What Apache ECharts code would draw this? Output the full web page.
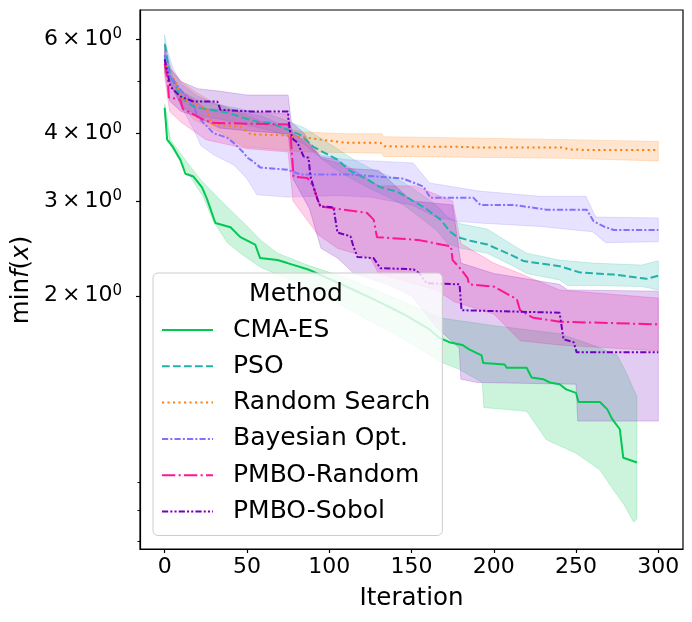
<!DOCTYPE html>
<html>
<head>
<meta charset="utf-8">
<script src="https://cdn.jsdelivr.net/npm/echarts@6.0.0/dist/echarts.min.js"></script>
<style>
html, body { margin: 0; padding: 0; background: #fff; }
#chart { width: 692px; height: 622px; }
</style>
</head>
<body>
<div id="chart"></div>
<script type="text/javascript">
// [iteration, value]
var methods = ['CMA-ES', 'PSO', 'Random Search', 'Bayesian Opt.', 'PMBO-Random', 'PMBO-Sobol'];
var xTicks = [0, 50, 100, 150, 200, 250, 300];
var yTicks = [2, 3, 4, 6];
var yMinorTicks = [0.7, 0.8, 0.9, 5];

var cmaMean = [[0,4.47],[1.5,3.90],[5,3.78],[9.5,3.58],[12.6,3.37],[17.5,3.33],[22.7,3.18],[25.8,3.02],[30.8,2.73],[40,2.68],[46,2.57],[55,2.49],[58,2.35],[68.5,2.33],[74.6,2.30],[86.8,2.24],[90,2.22],[100,2.15],[115,2.05],[130,1.95],[145,1.85],[160,1.74],[167,1.67],[173,1.64],[181,1.62],[185,1.59],[192.6,1.55],[193.6,1.50],[206.6,1.49],[207.8,1.47],[220,1.47],[223,1.41],[230,1.40],[234,1.38],[240,1.37],[244,1.34],[250,1.32],[251.5,1.27],[264.5,1.27],[269,1.23],[272,1.18],[276.6,1.13],[278.7,1.00],[287,0.98]];
var cmaHi = [[0,4.55],[3.5,3.90],[13.6,3.54],[21.7,3.29],[32,3.05],[41.8,2.85],[50.3,2.69],[58.2,2.54],[68.5,2.40],[86.8,2.28],[110,2.16],[140,1.98],[167,1.82],[200,1.76],[240,1.70],[260,1.62],[275,1.55],[280,1.45],[287,1.30]];
var cmaLo = [[0,4.35],[3.5,3.80],[13.6,3.40],[23.5,3.05],[29.6,2.75],[38.1,2.51],[46,2.40],[58.2,2.26],[75,2.15],[90,2.05],[110,1.90],[130,1.76],[150,1.63],[167,1.51],[179,1.46],[193,1.38],[194,1.24],[220,1.22],[232,1.08],[250,1.02],[264.4,0.95],[272.9,0.87],[279,0.82],[285,0.76],[287,0.77]];

var psoMean = [[0,5.86],[0.4,5.81],[1.6,5.49],[3.5,5.11],[7.7,4.83],[11.4,4.63],[17.5,4.49],[27.8,4.43],[38.1,4.38],[47.9,4.28],[56.4,4.21],[64.3,4.19],[74.6,4.07],[82.5,3.98],[90.4,3.78],[99,3.66],[105,3.58],[112.9,3.41],[123.2,3.29],[131.1,3.18],[141.5,3.12],[149.4,3.02],[159.7,2.89],[167.6,2.77],[173.6,2.63],[177.9,2.57],[185.8,2.53],[196.2,2.49],[212,2.37],[218.1,2.32],[240,2.27],[252.2,2.21],[272.9,2.19],[292.9,2.15],[300,2.18]];
var psoHi = [[0,6.10],[2,5.60],[5,5.10],[10,4.80],[20,4.62],[35,4.52],[50,4.42],[65,4.33],[75,4.22],[85,4.10],[95,3.92],[105,3.75],[115,3.58],[125,3.45],[135,3.35],[145,3.25],[155,3.10],[165,2.95],[172,2.80],[180,2.72],[196,2.66],[212,2.48],[220,2.40],[240,2.33],[260,2.30],[290,2.28],[299,2.32],[300,2.32]];
var psoLo = [[0,5.60],[2,5.20],[5,4.85],[10,4.50],[20,4.32],[35,4.25],[50,4.15],[65,4.05],[75,3.95],[85,3.82],[95,3.60],[105,3.42],[115,3.28],[125,3.16],[135,3.06],[145,2.95],[155,2.80],[165,2.65],[172,2.50],[180,2.45],[196,2.40],[212,2.27],[220,2.20],[240,2.14],[245,2.09],[260,2.09],[290,2.08],[300,2.05]];

var rsMean = [[0,5.49],[3.5,5.07],[6.5,5.04],[9.5,4.67],[17.5,4.55],[26,4.43],[27.8,4.25],[29.6,4.16],[46,4.12],[52.1,3.99],[74.6,3.97],[82.5,3.95],[94.7,3.90],[110,3.85],[131,3.85],[133.5,3.79],[185,3.78],[187.7,3.77],[242.4,3.77],[245.5,3.74],[252.2,3.74],[254.6,3.73],[300,3.73]];
var rsHi = [[0,5.70],[3.5,5.30],[10,5.00],[18,4.80],[28,4.60],[40,4.45],[52,4.30],[64,4.16],[84,4.03],[110,4.00],[132,4.00],[133,3.95],[245,3.90],[300,3.87]];
var rsLo = [[0,5.20],[3.5,4.90],[10,4.55],[17.5,4.25],[34,4.02],[48,3.78],[68,3.74],[84,3.70],[132,3.68],[133,3.63],[245,3.60],[300,3.56]];

var boMean = [[0,5.60],[0.4,5.44],[3.5,5.11],[9.5,4.83],[17.5,4.53],[19.9,4.30],[21.7,4.25],[26,4.12],[29.6,4.01],[38.1,3.93],[41.8,3.85],[47.9,3.69],[50.3,3.61],[53.9,3.55],[58.2,3.46],[74.6,3.43],[82.5,3.36],[112.9,3.36],[145,3.30],[157.3,3.19],[161.5,3.04],[187.7,3.04],[191.9,2.95],[212,2.95],[232.1,2.89],[256.5,2.89],[260.7,2.75],[266.8,2.69],[272.9,2.65],[300,2.65]];
var boHi = [[0,5.90],[5,5.30],[10,4.95],[20,4.70],[30,4.55],[45,4.40],[60,4.30],[75,4.10],[85,3.85],[95,3.65],[110,3.58],[151,3.53],[161,3.24],[191,3.13],[228,3.06],[256,3.06],[262,2.80],[300,2.79]];
var boLo = [[0,5.30],[5,4.85],[10,4.50],[18,4.05],[22,3.80],[30,3.65],[42,3.50],[50,3.30],[56,3.08],[75,3.05],[105,3.07],[125,3.05],[150,2.95],[165,2.80],[178,2.75],[191,2.73],[228,2.69],[260,2.63],[268,2.51],[300,2.52]];

var prMean = [[0,5.40],[2,5.00],[2.5,4.67],[9.5,4.63],[11,4.45],[23.5,4.25],[29,4.19],[75,4.16],[76.4,4.02],[78.3,3.33],[86.8,3.31],[90.4,3.19],[92.9,3.02],[94.7,2.93],[123,2.85],[127,2.77],[129,2.57],[154,2.54],[168,2.49],[174,2.47],[175,2.33],[180,2.24],[184,2.16],[185,2.10],[200,2.08],[214,1.97],[216,1.88],[224,1.82],[240,1.79],[300,1.77]];
var prHi = [[0,5.60],[3,5.10],[10,4.80],[25,4.45],[50,4.40],[75,4.35],[78,4.00],[90,3.80],[95,3.60],[110,3.50],[130,3.20],[152,3.20],[175,3.00],[180,2.50],[200,2.30],[216,2.20],[240,2.05],[300,1.98]];
var prLo = [[0,5.10],[3,4.40],[10,4.20],[25,3.90],[50,3.75],[75,3.70],[78,3.00],[93,2.60],[105,2.45],[125,2.35],[130,2.20],[165,2.05],[176,1.95],[200,1.85],[216,1.65],[240,1.62],[300,1.58]];

var psMean = [[0,5.50],[0.4,5.49],[3.5,4.89],[9.5,4.69],[17.5,4.59],[32,4.59],[33.9,4.43],[52,4.40],[75,4.40],[75.2,4.25],[76.4,4.02],[78.3,3.90],[80.7,3.85],[84.4,3.63],[87.4,3.61],[88.6,3.33],[90.4,3.19],[92.9,3.02],[94.7,2.93],[102.6,2.92],[105,2.62],[112.9,2.58],[114.7,2.47],[117.2,2.36],[126.9,2.35],[131.1,2.25],[151.2,2.24],[155,2.20],[159.1,2.11],[179.2,2.10],[180.4,1.88],[240,1.86],[242.4,1.66],[248.5,1.64],[250.4,1.57],[300,1.57]];
var psHi = [[0,5.80],[3,5.30],[10,5.00],[20,4.85],[33,4.80],[50,4.72],[75,4.72],[77,4.20],[85,4.00],[90,3.75],[95,3.62],[105,3.58],[110,3.45],[130,3.42],[150,3.00],[175,2.95],[180,2.30],[200,2.20],[240,2.10],[245,2.05],[300,2.04]];
var psLo = [[0,5.20],[3,4.60],[10,4.40],[20,4.30],[33,4.10],[50,4.05],[75,4.00],[78,3.30],[88,2.90],[95,2.45],[105,2.35],[115,2.20],[125,2.15],[135,2.10],[150,2.00],[165,1.75],[179,1.60],[180,1.40],[190,1.38],[250,1.37],[251,1.17],[300,1.17]];

var means = [cmaMean, psoMean, rsMean, boMean, prMean, psMean];
var his = [cmaHi, psoHi, rsHi, boHi, prHi, psHi];
var los = [cmaLo, psoLo, rsLo, boLo, prLo, psLo];

var colors = ['#00c853', '#20b2aa', '#ff7f0e', '#8470ff', '#ff1493', '#7000c0'];
var dashes = ['solid', [7.7, 3.3], [2.1, 3.4], [6.2, 2.1, 2.1, 2.1], [13.3, 3.3, 2.1, 3.3], [6.2, 2.1, 2.1, 2.1, 2.1, 2.1]];
var font = 'DejaVu Sans';

var myChart = echarts.init(document.getElementById('chart'));

function bandSeries(i) {
    var hi = his[i], lo = los[i];
    return {
        type: 'custom',
        name: methods[i] + ' band',
        silent: true,
        data: [hi[0]],
        renderItem: function (params, api) {
            var pts = hi.map(function (p) { return api.coord(p); });
            lo.slice().reverse().forEach(function (p) { pts.push(api.coord(p)); });
            return {
                type: 'polygon',
                shape: { points: pts },
                style: { fill: colors[i], stroke: colors[i], lineWidth: 1, opacity: 0.2 }
            };
        }
    };
}

var series = [];
for (var i = 0; i < methods.length; i++) {
    series.push(bandSeries(i));
    series.push({
        type: 'line',
        name: methods[i],
        data: means[i],
        showSymbol: false,
        symbol: 'none',
        color: colors[i],
        lineStyle: { width: 2, type: dashes[i], color: colors[i] }
    });
}

var option = {
    animation: false,
    grid: { left: 140, top: 10, right: 9, bottom: 73, show: true, borderColor: '#000', borderWidth: 1.2 },
    xAxis: {
        type: 'value', min: -15, max: 315,
        name: 'Iteration', nameLocation: 'middle', nameGap: 37,
        nameTextStyle: { fontSize: 24.5, fontFamily: font, color: '#000' },
        axisLine: { onZero: false, lineStyle: { color: '#000', width: 1.2 } },
        axisTick: { length: 4, lineStyle: { color: '#000', width: 1.2 }, customValues: xTicks },
        axisLabel: { fontSize: 22, fontFamily: font, color: '#000', margin: 7, customValues: xTicks },
        splitLine: { show: false }
    },
    yAxis: [{
        type: 'log', logBase: 10, min: 0.677, max: 6.79, position: 'left',
        axisLine: { onZero: false, lineStyle: { color: '#000', width: 1.2 } },
        axisTick: { length: 4, lineStyle: { color: '#000', width: 1.2 }, customValues: yTicks },
        axisLabel: {
            margin: 18, customValues: yTicks,
            formatter: function (v) { return '{n|' + Math.round(v) + '}{x|×}{n|10}{s|0}'; },
            rich: {
                n: { fontSize: 22, fontFamily: font, color: '#000', lineHeight: 24 },
                x: { fontSize: 22, fontFamily: font, color: '#000', lineHeight: 24, padding: [0, 4, 0, 4] },
                s: { fontSize: 15, fontFamily: font, color: '#000', lineHeight: 15, verticalAlign: 'top' }
            }
        },
        splitLine: { show: false }
    }, {
        type: 'log', logBase: 10, min: 0.677, max: 6.79, position: 'left', offset: 0,
        axisLine: { show: false, onZero: false },
        axisTick: { length: 2.5, lineStyle: { color: '#000', width: 1 }, customValues: yMinorTicks },
        axisLabel: { show: false },
        splitLine: { show: false }
    }],
    legend: {
        data: methods,
        orient: 'vertical',
        left: 153, top: 273,
        padding: [44, 12, 11, 8],
        itemGap: 10.3, itemWidth: 51, itemHeight: 14,
        backgroundColor: 'rgba(255,255,255,0.8)',
        borderColor: '#cccccc', borderWidth: 1, borderRadius: 5,
        selectedMode: false,
        itemStyle: { opacity: 0 },
        textStyle: { fontSize: 25, fontFamily: font, color: '#000', lineHeight: 26, padding: [0, 0, 0, 15] }
    },
    graphic: [{
        type: 'text', z: 100, x: 296, y: 294,
        style: { text: 'Method', font: '25px "DejaVu Sans"', fill: '#000', align: 'center', verticalAlign: 'middle' }
    }, {
        type: 'text', z: 100, x: 22, y: 280, rotation: Math.PI / 2,
        style: {
            text: '{r|min}{i|f}{r|(}{i|x}{r|)}',
            align: 'center', verticalAlign: 'middle',
            rich: {
                r: { fontSize: 24.5, fontFamily: font, fill: '#000' },
                i: { fontSize: 24.5, fontFamily: font, fill: '#000', fontStyle: 'italic' }
            }
        }
    }],
    series: series
};
myChart.setOption(option);
</script>
</body>
</html>
